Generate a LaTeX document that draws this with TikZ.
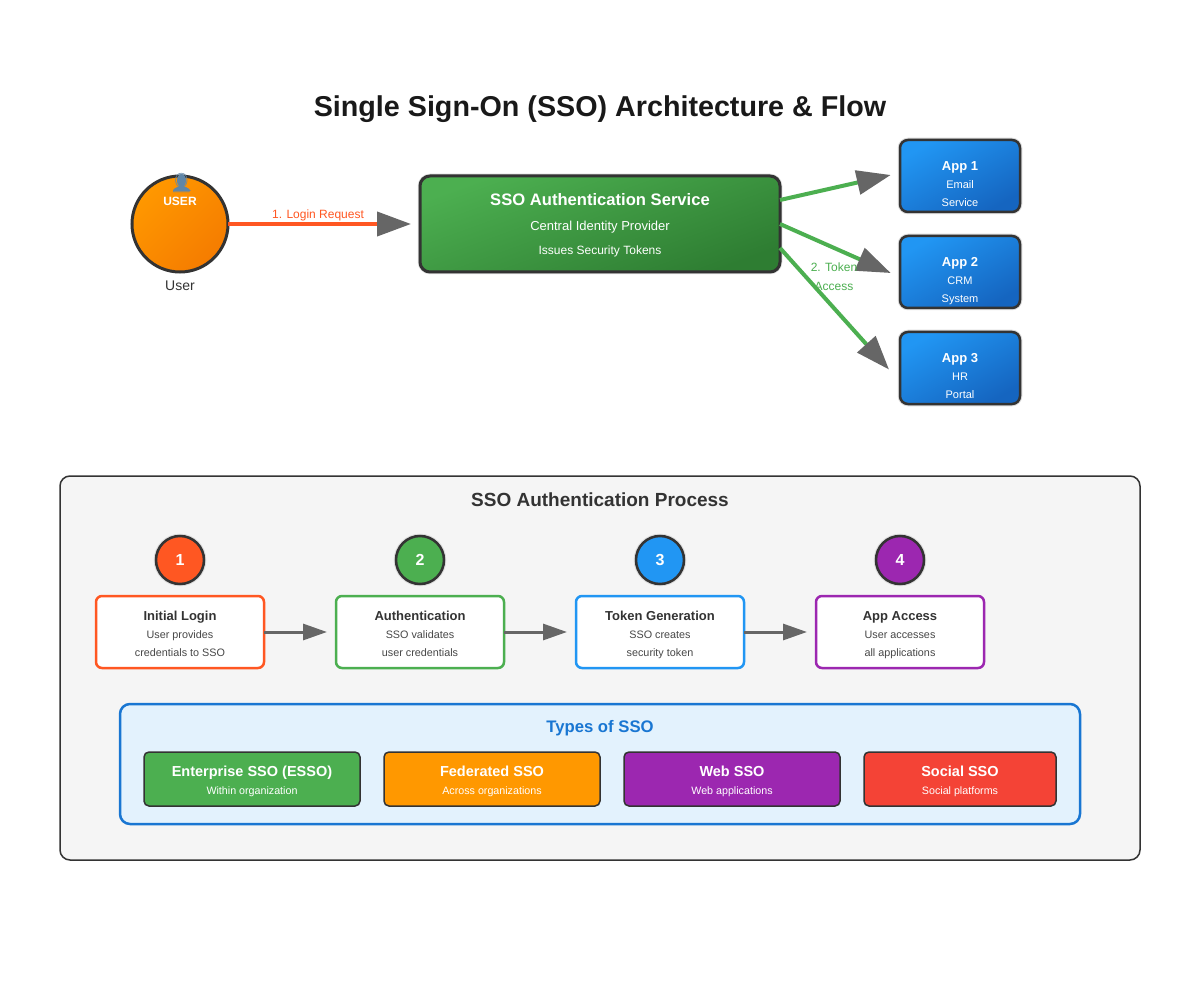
\documentclass[tikz,border=0pt]{standalone}
\usepackage{fontspec}
\setmainfont{Liberation Sans}
\newfontfamily\emojifont{Noto Emoji}
\usetikzlibrary{arrows.meta}
\definecolor{inkc}{HTML}{333333}
\definecolor{tipc}{HTML}{666666}
\definecolor{redc}{HTML}{FF5722}
\definecolor{greenc}{HTML}{4CAF50}
\definecolor{greendeep}{HTML}{2E7D32}
\definecolor{bluec}{HTML}{2196F3}
\definecolor{bluedeep}{HTML}{1565C0}
\definecolor{purplec}{HTML}{9C27B0}
\definecolor{orangec}{HTML}{FF9800}
\definecolor{orangedeep}{HTML}{F57C00}
\definecolor{crimsonc}{HTML}{F44336}
\definecolor{navyc}{HTML}{1976D2}
\definecolor{skyc}{HTML}{E3F2FD}
\definecolor{bustc}{HTML}{5F86A8}
\tikzset{
  halo/.style={preaction={draw=black!14,line width=4.5pt}},
  flow/.style={line width=4pt,-{Triangle[length=34pt,width=24pt,fill=tipc,color=tipc]}},
  stepflow/.style={draw=tipc,line width=3pt,shorten >=9pt,-{Triangle[length=24pt,width=16pt,fill=tipc,color=tipc]}},
  appbox/.style={draw=inkc,line width=2.5pt,rounded corners=8pt,minimum width=120pt,minimum height=72pt,inner sep=0pt,outer sep=0pt,halo,left color=bluec,right color=bluedeep,shading angle=30},
  apptext/.style={text=white,align=center,font=\fontsize{11}{18}\selectfont,execute at begin node=\strut,execute at end node=\strut},
  stepnum/.style={circle,draw=inkc,line width=2.5pt,minimum size=48pt,inner sep=0pt,outer sep=0pt,halo,text=white,font=\fontsize{16}{18}\selectfont\bfseries},
  stepbox/.style={draw=#1,fill=white,line width=2.5pt,rounded corners=6pt,minimum width=168pt,minimum height=72pt,inner sep=0pt,outer sep=0pt},
  steptext/.style={text=black!72,align=center,font=\fontsize{10.8}{18}\selectfont,execute at begin node=\strut,execute at end node=\strut},
  typebox/.style={draw=inkc,fill=#1,line width=1.5pt,rounded corners=5pt,minimum width=216pt,minimum height=54pt,inner sep=0pt,outer sep=0pt},
  typetext/.style={text=white,align=center,font=\fontsize{10.7}{18.5}\selectfont,execute at begin node=\strut,execute at end node=\strut},
}
\newcommand{\headline}[2]{{\fontsize{#1}{18}\selectfont\bfseries #2}}
\newcommand{\stephead}[1]{{\color{inkc}\fontsize{13}{18}\selectfont\bfseries #1}}
\begin{document}
\begin{tikzpicture}[x=1pt,y=-1pt]
  \useasboundingbox[fill=white] (0,0) rectangle (1200,1000);
  \node[text=black!90,font=\fontsize{28.7}{32}\selectfont\bfseries] (title) at (600,109) {Single Sign-On (SSO) Architecture \& Flow};

  % upper part
  \node[circle,draw=inkc,line width=3pt,minimum size=96pt,inner sep=0pt,outer sep=0pt,left color=orangec,right color=orangedeep,shading angle=45] (user) at (180,224) {};
  \fill[bustc] (181.500,180.500) ellipse (4.500 and 6.500);
  \fill[bustc] (173,191) .. controls (175,187) and (179,187) .. (181.500,185) .. controls (184,187) and (188,187) .. (191,191) -- cycle;
  \node[text=bustc,font=\fontsize{19}{22}\selectfont\emojifont] (usericon) at (181.500,183) {👤};
  \node[text=white,font=\fontsize{12}{14}\selectfont\bfseries] (usertag) at (180,201) {USER};
  \node[text=inkc,font=\fontsize{14}{16}\selectfont] (username) at (180,286) {User};

  \node[draw=inkc,line width=3pt,rounded corners=10pt,minimum width=360pt,minimum height=96pt,inner sep=0pt,outer sep=0pt,halo,left color=greenc,right color=greendeep,shading angle=20] (sso) at (600,224) {};
  \node[text=white,align=center,font=\fontsize{12}{24}\selectfont,execute at begin node=\strut,execute at end node=\strut] (ssotext) at (600,227.500) {\headline{16.600}{SSO Authentication Service}\\[1pt]{\fontsize{13}{24}\selectfont Central Identity Provider}\\Issues Security Tokens};

  \node[appbox] (app1) at (960,176) {};
  \node[appbox] (app2) at (960,272) {};
  \node[appbox] (app3) at (960,368) {};
  \node[apptext] (app1text) at (960,186.400) {\headline{13}{App 1}\\Email\\Service};
  \node[apptext] (app2text) at (960,282.400) {\headline{13}{App 2}\\CRM\\System};
  \node[apptext] (app3text) at (960,378.400) {\headline{13}{App 3}\\HR\\Portal};

  \draw[flow,shorten >=9pt,draw=redc] (user) -- (sso);
  \draw[flow,draw=greenc] ([yshift=24pt]sso.east) -- ([xshift=-9.300pt,yshift=1pt]app1.west);
  \draw[flow,draw=greenc] (sso.east) -- ([xshift=-9.300pt,yshift=-1pt]app2.west);
  \draw[flow,draw=greenc] ([yshift=-24pt]sso.east) -- ([xshift=-11pt,yshift=-1.500pt]app3.west);

  \node[text=redc,font=\fontsize{12}{14}\selectfont] (loginlabel) at (318,215) {1. Login Request};
  \node[text=greenc,align=center,font=\fontsize{12}{18.500}\selectfont] (tokenlabel) at (834,276.500) {2. Token\\Access};

  % process panel
  \node[draw=inkc,fill=black!4,line width=1.5pt,rounded corners=10pt,minimum width=1080pt,minimum height=384pt,inner sep=0pt] (panel) at (600,668) {};
  \node[text=inkc,font=\fontsize{19}{20}\selectfont\bfseries] (paneltitle) at (600,500) {SSO Authentication Process};

  \node[stepnum,fill=redc] (num1) at (180,560) {1};
  \node[stepnum,fill=greenc] (num2) at (420,560) {2};
  \node[stepnum,fill=bluec] (num3) at (660,560) {3};
  \node[stepnum,fill=purplec] (num4) at (900,560) {4};

  \node[stepbox=redc] (step1) at (180,632) {};
  \node[stepbox=greenc] (step2) at (420,632) {};
  \node[stepbox=bluec] (step3) at (660,632) {};
  \node[stepbox=purplec] (step4) at (900,632) {};
  \node[steptext] (step1text) at (180,636.400) {\stephead{Initial Login}\\User provides\\credentials to SSO};
  \node[steptext] (step2text) at (420,636.400) {\stephead{Authentication}\\SSO validates\\user credentials};
  \node[steptext] (step3text) at (660,636.400) {\stephead{Token Generation}\\SSO creates\\security token};
  \node[steptext] (step4text) at (900,636.400) {\stephead{App Access}\\User accesses\\all applications};

  \draw[stepflow] (step1) -- (step2);
  \draw[stepflow] (step2) -- (step3);
  \draw[stepflow] (step3) -- (step4);

  % types of sso
  \node[draw=navyc,fill=skyc,line width=2.5pt,rounded corners=10pt,minimum width=960pt,minimum height=120pt,inner sep=0pt] (types) at (600,764) {};
  \node[text=navyc,font=\fontsize{16.700}{20}\selectfont\bfseries] (typestitle) at (600,728) {Types of SSO};

  \node[typebox=greenc] (type1) at (252,779) {};
  \node[typebox=orangec] (type2) at (492,779) {};
  \node[typebox=purplec] (type3) at (732,779) {};
  \node[typebox=crimsonc,minimum width=192pt] (type4) at (960,779) {};
  \node[typetext] (type1text) at (252,783) {\headline{14.500}{Enterprise SSO (ESSO)}\\Within organization};
  \node[typetext] (type2text) at (492,783) {\headline{14.500}{Federated SSO}\\Across organizations};
  \node[typetext] (type3text) at (732,783) {\headline{14.500}{Web SSO}\\Web applications};
  \node[typetext] (type4text) at (960,783) {\headline{14.500}{Social SSO}\\Social platforms};
\end{tikzpicture}
\end{document}
